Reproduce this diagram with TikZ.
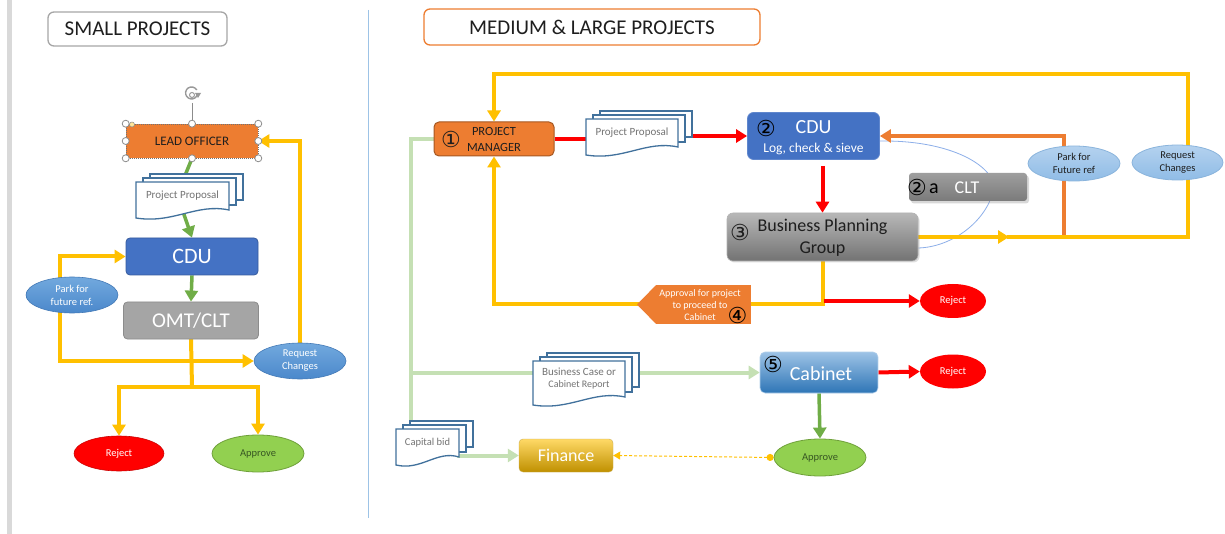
\documentclass[tikz,border=0pt]{standalone}
\usepackage{fontspec}
\setmainfont{Carlito}
\newfontfamily\circfont{DejaVu Sans}
\usetikzlibrary{arrows.meta,shapes.geometric,shadows,backgrounds,calc}
\definecolor{yelc}{HTML}{FFC000}
\definecolor{grnc}{HTML}{70AD47}
\definecolor{lgrnc}{HTML}{C5E0B4}
\definecolor{redc}{HTML}{FF0000}
\definecolor{orc}{HTML}{ED7D31}
\definecolor{bluec}{HTML}{4472C4}
\definecolor{docc}{HTML}{41719C}
\definecolor{grayc}{HTML}{A5A5A5}
\definecolor{darktxt}{HTML}{1E1E1E}
\definecolor{divc}{HTML}{9DC3E6}
\definecolor{HTMLa}{HTML}{72A9DE}
\definecolor{HTMLb}{HTML}{4B88CB}
\definecolor{HTMLc}{HTML}{B4D2EF}
\definecolor{HTMLd}{HTML}{90BCE6}
\definecolor{HTMLe}{HTML}{8AB4DC}
\definecolor{HTMLf}{HTML}{92D050}
\definecolor{HTMLg}{HTML}{6FA03A}
\definecolor{HTMLh}{HTML}{375623}
\definecolor{HTMLi}{HTML}{FFE699}
\definecolor{HTMLj}{HTML}{9DC3E6}
\definecolor{HTMLk}{HTML}{2E75B6}
\definecolor{HTMLl}{HTML}{FFD966}
\definecolor{HTMLm}{HTML}{BF9000}
\newcommand\fsz[2]{\fontsize{#1}{#2}\selectfont}
\newcommand\docstk[6]{%
 \pgfmathsetmacro\dL{#2-#4/2}%
 \pgfmathsetmacro\dR{#2+#4/2}%
 \pgfmathsetmacro\dT{#3-#5/2}%
 \pgfmathsetmacro\dB{#3+#5/2}%
 \filldraw[docsty] (\dL+14,\dT-8) rectangle (\dR+14,\dB-18);
 \filldraw[docsty] (\dL+7,\dT-4) rectangle (\dR+7,\dB-13);
 \filldraw[docsty] (\dL,\dT) -- (\dR,\dT) -- (\dR,\dB-8) .. controls (\dR-0.35*#4,\dB-15) and (\dL+0.4*#4,\dB+6) .. (\dL,\dB) -- cycle;
 \node[doctext, minimum width=#4, minimum height=#5-8] (#1) at (#2,#3-4) {#6};
}
\tikzset{
 box/.style={rectangle, rounded corners=4pt, inner sep=0pt, align=center},
 ell/.style={ellipse, inner sep=0pt, align=center},
 ellL/.style={ell, top color=HTMLa, bottom color=HTMLb, draw=HTMLb!90!black, line width=0.6pt, text=white, font=\fsz{10.5}{13}},
 ellR/.style={ell, top color=HTMLc, bottom color=HTMLd, draw=HTMLe, line width=0.8pt, text=darktxt, font=\fsz{10.5}{13}},
 docsty/.style={fill=white, draw=docc, line width=1.3pt},
 doctext/.style={rectangle, inner sep=0pt, align=center, text=black!55},
 yl/.style={draw=yelc, line width=4pt, line cap=rect},
 gr/.style={draw=grnc, line width=3.5pt},
 rd/.style={draw=redc, line width=4pt},
 lg/.style={draw=lgrnc, line width=4pt, line cap=rect},
 og/.style={draw=orc, line width=4pt, line cap=rect},
 tip/.style={-{Triangle[length=11pt,width=13pt]}},
 circ/.style={inner sep=0pt, font=\circfont\fsz{22}{22}},
 handle/.style={circle, fill=white, draw=black!45, line width=0.8pt, inner sep=0pt, minimum size=7pt},
}
\begin{document}
\begin{tikzpicture}[x=1pt,y=-1pt]
\useasboundingbox (0,0) rectangle (1225,534);
\begin{scope}[on background layer]
\fill[white] (0,0) rectangle (1225,534);
\end{scope}
\fill[black!15] (7,0) rectangle (12,534);
\draw[divc, line width=1pt] (368,10) -- (368,518);

% titles
\node[box, rounded corners=6pt, draw=black!35, line width=1.3pt, minimum width=179, minimum height=34, text=darktxt, font=\fsz{21}{24}] (titleS) at (137.5,29) {SMALL PROJECTS};
\node[box, rounded corners=6pt, draw=orc, line width=1.3pt, minimum width=336, minimum height=36, text=darktxt, font=\fsz{21}{24}] (titleM) at (592,27) {MEDIUM \& LARGE PROJECTS};

% ---------------- left flow
\node[rectangle, inner sep=0pt, fill=orc, draw=black!55, dash pattern=on 1pt off 1pt, line width=0.6pt, minimum width=132, minimum height=34, text=darktxt, font=\fsz{13}{15}] (lead) at (192,141) {LEAD OFFICER};
\docstk{ppL}{182.5}{200}{93}{36}{\fsz{11}{13}Project Proposal}
\node[box, fill=bluec, draw=bluec!80!black, line width=0.8pt, minimum width=132, minimum height=37, text=white, font=\fsz{22}{26}] (cduL) at (192,256.5) {CDU};
\node[box, fill=grayc, draw=black!45, line width=0.8pt, minimum width=135, minimum height=37, text=white, font=\fsz{21}{24}] (omt) at (191,320.5) {OMT/CLT};
\node[ellL, minimum width=92, minimum height=36] (parkL) at (72,295) {Park for\\future ref.};
\node[ellL, minimum width=92, minimum height=36] (reqL) at (300,361) {Request\\Changes};
\node[ell, fill=redc, draw=redc!80!black, line width=0.6pt, minimum width=90, minimum height=35, text=white, font=\fsz{10.5}{13}] (rejL) at (119,453.5) {Reject};
\node[ell, fill=HTMLf, draw=HTMLg, line width=0.8pt, minimum width=92, minimum height=37, text=HTMLh, font=\fsz{10.5}{13}] (appL) at (258,453.5) {Approve};

% selection handles
\coordinate (rotc) at (192,95);
\draw[black!45, line width=0.8pt] (rotc) ++(0,8) -- (lead.north);
\draw[black!40, line width=1.4pt] ($(rotc)+(5.5,-1)$) arc[start angle=10, end angle=330, radius=6];
\draw[black!40, line width=1pt] (rotc) circle (2.5);
\fill[black!40] ($(rotc)+(3,-2)$) -- ($(rotc)+(9,-2)$) -- ($(rotc)+(6,3)$) -- cycle;
\foreach \a in {north west,north,north east,west,east,south west,south,south east}
  \node[handle] at (lead.\a) {};
\node[circle, fill=HTMLi, draw=black!45, line width=0.5pt, inner sep=0pt, minimum size=5pt] (adj) at (132,124.5) {};

% ---------------- right flow
\node[box, rounded corners=5pt, fill=orc, draw=orc!70!black, line width=1pt, minimum width=120, minimum height=34] (pm) at (494,139) {};
\node[circ, text=darktxt] (n1) at (451,139) {①};
\node[inner sep=0pt, align=center, text=darktxt, font=\fsz{12.5}{16}] (pmt) at (494,139) {PROJECT\\MANAGER};
\docstk{ppR}{632}{137}{92}{36}{\fsz{11}{13}Project Proposal}
\node[box, rounded corners=6pt, fill=bluec, draw=bluec!85!white, line width=0.8pt, minimum width=132, minimum height=47] (cduR) at (813.5,136) {};
\node[circ, text=black] (n2) at (766,128) {②};
\node[inner sep=0pt, text=white, font=\fsz{20}{22}] (cduRt) at (813.5,127.5) {CDU};
\node[inner sep=0pt, text=white, font=\fsz{13.5}{15}] (cduRs) at (813.5,149) {Log, check \& sieve};

\node[box, rounded corners=6pt, top color=black!28, bottom color=black!55, draw=black!30, line width=0.6pt, minimum width=191, minimum height=48, drop shadow={shadow xshift=1.5pt, shadow yshift=-1.5pt, opacity=0.25}] (bpg) at (822.5,237) {};
\node[circ, text=darktxt] (n3) at (740,232) {③};
\node[inner sep=0pt, align=center, text=darktxt, font=\fsz{18}{22}] (bpgt) at (822.5,238) {Business Planning\\Group};

\node[box, rounded corners=3pt, top color=black!38, bottom color=black!52, minimum width=118, minimum height=28, drop shadow={shadow xshift=2pt, shadow yshift=-2.5pt, opacity=0.3}] (clt) at (968,187) {};
\node[circ, text=black] (n2a) at (917,187) {②};
\node[inner sep=0pt, text=black, font=\fsz{20}{20}] (n2aa) at (934,189) {a};
\node[inner sep=0pt, text=white, font=\fsz{18}{20}] (cltt) at (967,187.5) {CLT};

\node[ellR, minimum width=92, minimum height=35] (parkR) at (1074,163.5) {Park for\\Future ref};
\node[ellR, minimum width=91, minimum height=35] (reqR) at (1177.5,162.5) {Request\\Changes};

% approval pentagon
\node[rectangle, fill=orc, inner sep=0pt, minimum width=95, minimum height=38] (apv) at (703.5,304.5) {};
\coordinate (apvTip) at (637,304.5);
\fill[orc] (apv.north west) -- (apvTip) -- (apv.south west) -- cycle;
\node[inner sep=0pt, align=center, text=white, font=\fsz{10}{12.3}] (apvt) at (700,305) {Approval for project\\to proceed to\\Cabinet};
\node[circ, text=black] (n4) at (737.5,315) {④};

\node[ell, fill=redc, minimum width=66, minimum height=34, text=white, font=\fsz{10.5}{13}] (rejR1) at (953,301) {Reject};

\docstk{bcd}{579}{383}{92}{44}{\fsz{11}{14}Business Case or\\Cabinet Report}
\node[box, rounded corners=5pt, top color=HTMLj, bottom color=HTMLk, draw=HTMLj!80!white, line width=0.6pt, minimum width=118, minimum height=41] (cab) at (819,372.5) {};
\node[circ, text=black] (n5) at (773,364) {⑤};
\node[inner sep=0pt, text=white, font=\fsz{20}{22}] (cabt) at (821,374) {Cabinet};
\node[ell, fill=redc, minimum width=66, minimum height=34, text=white, font=\fsz{10.5}{13}] (rejR2) at (953,371.5) {Reject};
\node[ell, fill=HTMLf, draw=HTMLg, line width=0.8pt, minimum width=92, minimum height=37, text=HTMLh, font=\fsz{10.5}{13}] (appR) at (820,457.5) {Approve};
\node[box, rounded corners=4pt, top color=HTMLl, bottom color=HTMLm, draw=HTMLl!80!black, line width=0.4pt, minimum width=94, minimum height=33, text=white, font=\fsz{18}{20}] (fin) at (566,455.5) {Finance};
\docstk{capd}{427.5}{447}{63}{36}{\fsz{10.5}{12}Capital bid}

% ---------------- connectors
\begin{scope}[on background layer]
% left
\draw[gr] (lead.south) -- (ppL.north);
\draw[gr,tip] (ppL.south) -- (cduL.north);
\draw[gr,tip] (cduL.south) -- (omt.north);
\coordinate (oJ) at (192,386.5);
\draw[yl] (omt.south) -- (oJ);
\draw[yl,tip] (oJ) -| (appL.north);
\draw[yl,tip] (oJ) -| (rejL.north);
\coordinate (jL) at (60,361);
\draw[yl,tip] (jL) |- (cduL.west);
\draw[yl,tip] (jL) -- (reqL.west);
\draw[yl,tip] (reqL.north) |- (lead.east);
% right
\draw[rd] (pm.east) -- (pm.east -| ppR.west);
\draw[rd,tip] (ppR.east |- cduR.west) -- (cduR.west);
\draw[rd,tip, shorten <=6pt] (bpg.north |- cduR.south) -- (bpg.north);
\draw[divc!90!blue, line width=0.8pt] ($(cduR.east)+(0,5)$) .. controls (960,140) and (1000,172) .. (993,192) .. controls (985,222) and (952,247) .. ($(bpg.east)+(0,11)$);
\coordinate (yArr) at (1009,237);
\coordinate (yBR) at (1188,237);
\coordinate (yTR) at (1188,74);
\coordinate (oB) at (1064,237);
\draw[og,tip] (oB) |- (cduR.east);
\draw[yl,tip] (bpg.east) -- (yArr);
\draw[yl] (yArr) -- (yBR);
\draw[yl,tip] (yBR) -- (yTR) -| (pm.north);
\coordinate (bJ) at (822.5,304.5);
\draw[yl] (bpg.south) -- (bJ) -- (apv.east);
\coordinate (rJ) at (824,301);
\draw[rd,tip] (rJ) -- (rejR1.west);
\draw[yl,tip] (apvTip) -| (pm.south);
\coordinate (gJ) at (411,372.5);
\draw[lg] (pm.west) -| (gJ) -- (gJ |- capd.north);
\draw[lg] (gJ) -- (gJ -| bcd.west);
\draw[lg,tip] (bcd.east |- cab.west) -- (cab.west);
\draw[lg,tip] (capd.east |- fin.west) -- (fin.west);
\draw[rd,tip] (cab.east) -- (rejR2.west);
\draw[gr,tip] (cab.south) -- (appR.north);
\draw[yelc, line width=1pt, dash pattern=on 3pt off 2pt, {Circle[length=7pt]}-{Triangle[length=7pt,width=8pt]}] (appR.west) -- (fin.east);
\end{scope}
\end{tikzpicture}
\end{document}
